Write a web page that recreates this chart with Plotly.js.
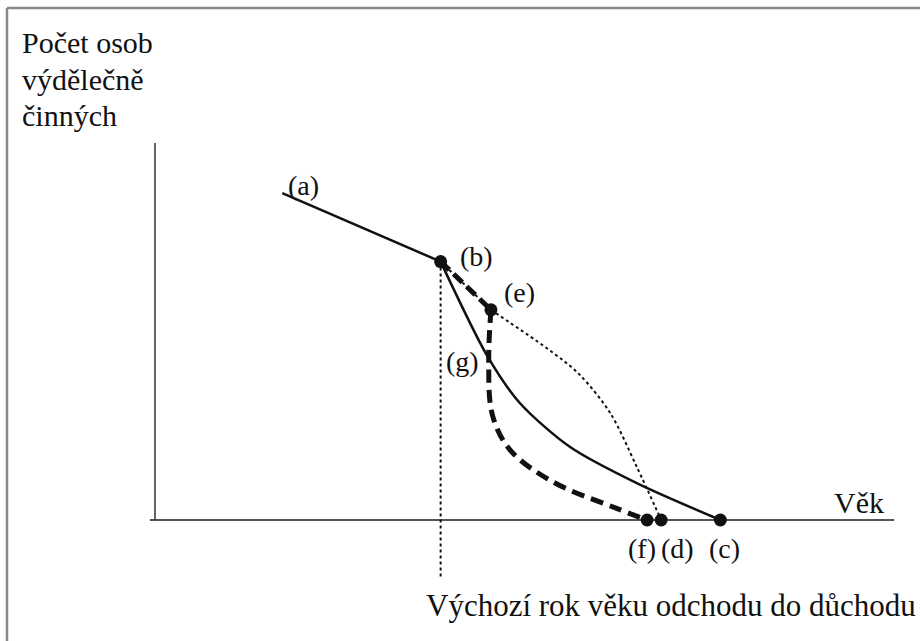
<!DOCTYPE html>
<html>
<head>
<meta charset="utf-8">
<script src="https://cdn.plot.ly/plotly-3.0.1.min.js"></script>
<style>html,body{margin:0;padding:0;background:#fff;}#chart{width:920px;height:641px;}</style>
</head>
<body>
<div id="chart"></div>
<script>
// Schematic: number of economically active persons vs. age (abstract units)
const axisX_x = [-0.7, 99.9];
const axisX_y = [0, 0];
const axisY_x = [0, 0];
const axisY_y = [0, 99.2];

// (a) -> (b) solid
const lineAB_x = [17.2, 38.6];
const lineAB_y = [86.0, 68.0];

// (b) -> (g) -> (c) solid curve
const curveBC_x = [38.6, 44.9, 49.3, 56.1, 65.1, 76.4];
const curveBC_y = [68.0, 43.2, 30.8, 19.2, 9.7, 0.0];

// (b) -> (e) thick dashed (straight)
const dashBE_x = [38.6, 45.4];
const dashBE_y = [68.0, 55.3];

// (e) -> (f) thick dashed curve
const dashEF_x = [45.4, 45.1, 45.6, 48.0, 53.8, 62.2, 66.5];
const dashEF_y = [55.3, 42.1, 27.6, 18.4, 10.0, 3.2, 0.0];

// (b) -> (e) -> (d) dotted
const dotBE_x = [38.6, 45.4];
const dotBE_y = [68.0, 55.3];
const dotED_x = [45.4, 53.8, 57.4, 61.5, 65.1, 68.4];
const dotED_y = [55.3, 44.0, 38.2, 28.2, 14.0, 0.0];

// vertical dotted line at the baseline retirement age
const baseAge_x = [38.6, 38.6];
const baseAge_y = [68.0, -15.3];

// marked points
const pointNames = ['b', 'e', 'f', 'd', 'c'];
const points_x = [38.6, 45.4, 66.5, 68.4, 76.4];
const points_y = [68.0, 55.3, 0.0, 0.0, 0.0];

// point labels
const labelText = ['(a)', '(b)', '(e)', '(g)', '(f)', '(d)', '(c)'];
const label_x = [20.0, 43.5, 49.3, 41.5, 65.8, 70.6, 76.9];
const label_y = [88.0, 69.4, 59.8, 41.6, -7.4, -7.4, -7.4];

const xAxisLabel = 'Věk';
const yAxisLabel = ['Počet osob', 'výdělečně', 'činných'];
const bottomLabel = 'Výchozí rok věku odchodu do důchodu';

const FONT = 'Liberation Serif, serif';
const INK = '#111';

const traces = [
  {x: axisX_x, y: axisX_y, mode: 'lines', line: {color: '#555', width: 2}, hoverinfo: 'skip'},
  {x: axisY_x, y: axisY_y, mode: 'lines', line: {color: '#333', width: 1.5}, hoverinfo: 'skip'},
  {x: baseAge_x, y: baseAge_y, mode: 'lines', line: {color: INK, width: 2, dash: 'dot'}, hoverinfo: 'skip'},
  {x: dotBE_x, y: dotBE_y, mode: 'lines', line: {color: INK, width: 2, dash: 'dot'}, hoverinfo: 'skip'},
  {x: dotED_x, y: dotED_y, mode: 'lines', line: {color: INK, width: 2, dash: 'dot', shape: 'spline', smoothing: 0.9}, hoverinfo: 'skip'},
  {x: lineAB_x, y: lineAB_y, mode: 'lines', line: {color: INK, width: 2.5}, hoverinfo: 'skip'},
  {x: curveBC_x, y: curveBC_y, mode: 'lines', line: {color: INK, width: 2.5, shape: 'spline', smoothing: 0.8}, hoverinfo: 'skip'},
  {x: dashBE_x, y: dashBE_y, mode: 'lines', line: {color: INK, width: 5, dash: '12px,6px'}, hoverinfo: 'skip'},
  {x: dashEF_x, y: dashEF_y, mode: 'lines', line: {color: INK, width: 5, dash: '13px,7px', shape: 'spline', smoothing: 1}, hoverinfo: 'skip'},
  {x: points_x, y: points_y, text: pointNames, mode: 'markers', marker: {color: INK, size: 13}, hoverinfo: 'skip'}
];

const annotations = [];
for (let i = 0; i < labelText.length; i++) {
  annotations.push({x: label_x[i], y: label_y[i], xref: 'x', yref: 'y', text: labelText[i],
    showarrow: false, font: {family: FONT, size: 28, color: INK}});
}
annotations.push({x: 95.1, y: 4.7, xref: 'x', yref: 'y', text: xAxisLabel, showarrow: false,
  font: {family: FONT, size: 30, color: INK}});
yAxisLabel.forEach(function (t, i) {
  annotations.push({x: 20 / 920, y: 1 - (43 + i * 36) / 641, xref: 'paper', yref: 'paper', xanchor: 'left', yanchor: 'middle',
    text: t, showarrow: false, font: {family: FONT, size: 30, color: INK}});
});
annotations.push({x: 671 / 920, y: 1 - 605 / 641, xref: 'paper', yref: 'paper', xanchor: 'center', yanchor: 'middle',
  text: bottomLabel, showarrow: false, font: {family: FONT, size: 31, color: INK}});

const layout = {
  width: 920, height: 641,
  margin: {l: 0, r: 0, t: 0, b: 0},
  paper_bgcolor: '#fff', plot_bgcolor: '#fff',
  showlegend: false,
  font: {family: FONT},
  xaxis: {range: [-155 / 7.4, 765 / 7.4], visible: false, fixedrange: true},
  yaxis: {range: [-121 / 3.8, 520 / 3.8], visible: false, fixedrange: true},
  annotations: annotations,
  shapes: [
    {type: 'line', xref: 'paper', yref: 'paper', x0: 7 / 920, x1: 1, y0: 1 - 8 / 641, y1: 1 - 8 / 641, line: {color: '#888', width: 2.5}},
    {type: 'line', xref: 'paper', yref: 'paper', x0: 7 / 920, x1: 7 / 920, y0: 0, y1: 1 - 8 / 641, line: {color: '#888', width: 2.5}}
  ]
};

Plotly.newPlot('chart', traces, layout, {staticPlot: true, displayModeBar: false});
</script>
</body>
</html>
